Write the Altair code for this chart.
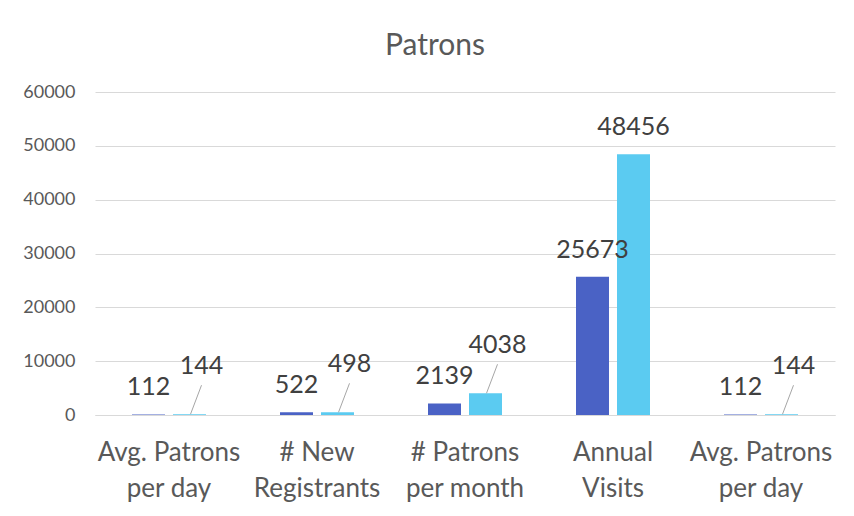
import json
import altair as alt
import pandas as pd

# ---- data ----
categories = ["Avg. Patrons\nper day", "# New\nRegistrants", "# Patrons\nper month",
              "Annual\nVisits", "Avg. Patrons\nper day"]
series_dark = [112, 522, 2139, 25673, 112]
series_light = [144, 498, 4038, 48456, 144]
y_ticks = [0, 10000, 20000, 30000, 40000, 50000, 60000]
chart_title = "Patrons"

DARK = "#4a62c5"
LIGHT = "#5bcbf1"
GRID = "#d9d9d9"
FONT = "Lato"

df = pd.DataFrame({
    "idx": list(range(len(categories))),
    "cat": categories,
    "dark": series_dark,
    "light": series_light,
})

label_expr = "split(" + json.dumps(categories) + "[datum.value], '\\n')"

x_axis = alt.Axis(labelExpr=label_expr, labelAngle=0, ticks=False, grid=False,
                  domain=True, domainColor=GRID, labelFont=FONT, labelFontSize=26,
                  labelColor="#595959", labelPadding=24, labelLineHeight=36,
                  labelBaseline="top")
x_scale = alt.Scale(paddingInner=0.5, paddingOuter=0.25)


def xenc(**kw):
    return alt.X("idx:O", scale=x_scale, axis=x_axis, title=None, **kw)


y_scale = alt.Scale(domain=[0, 60000])
y_axis = alt.Axis(values=y_ticks, format="d", domain=False, ticks=False, grid=True,
                  gridColor=GRID, labelFont=FONT, labelFontSize=18,
                  labelColor="#595959", labelPadding=20)

base = alt.Chart(df)

bars_dark = base.mark_bar(color=DARK, width=33, xOffset=-20.5).encode(
    x=xenc(),
    y=alt.Y("dark:Q", scale=y_scale, axis=y_axis, title=None),
)
bars_light = base.mark_bar(color=LIGHT, width=33, xOffset=20.5).encode(
    x=xenc(),
    y=alt.Y("light:Q", title=None),
)

txt_style = dict(font=FONT, fontSize=25, color="#404040", baseline="middle")

text_dark = base.mark_text(xOffset=-20.5, dy=-27, **txt_style).encode(
    x=xenc(),
    y=alt.Y("dark:Q", title=None),
    text=alt.Text("dark:Q", format="d"),
)
text_light_big = base.transform_filter("datum.light >= 10000").mark_text(
    xOffset=20.5, dy=-27, **txt_style).encode(
    x=xenc(),
    y=alt.Y("light:Q", title=None),
    text=alt.Text("light:Q", format="d"),
)
text_light_small = base.transform_filter("datum.light < 10000").mark_text(
    xOffset=32.5, dy=-48, **txt_style).encode(
    x=xenc(),
    y=alt.Y("light:Q", title=None),
    text=alt.Text("light:Q", format="d"),
)
leader = base.transform_filter("datum.light < 10000").mark_rule(
    color="#a6a6a6", strokeWidth=1, xOffset=21.5, x2Offset=32.5, y2Offset=-29).encode(
    x=xenc(bandPosition=0.5),
    x2=alt.X2("idx:O", bandPosition=0.5),
    y=alt.Y("light:Q", title=None),
    y2=alt.Y2("light:Q"),
)

chart = alt.layer(bars_dark, bars_light, leader, text_dark, text_light_big, text_light_small).properties(
    width=740,
    height=323,
    autosize="none",
    padding={"left": 87, "top": 84, "right": 11, "bottom": 93},
    title=alt.Title(chart_title, font=FONT, fontSize=30, color="#595959",
                    fontWeight="normal", anchor="middle", dx=-30, offset=22),
).configure(background="white", view=alt.ViewConfig(stroke=None))

chart.save("out.html", embed_options={"renderer": "svg", "actions": False})
